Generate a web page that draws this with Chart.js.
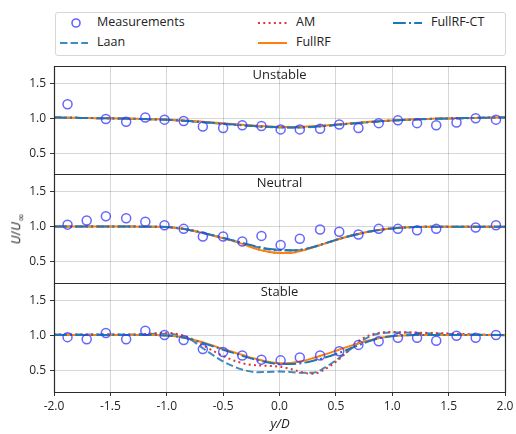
<!DOCTYPE html>
<html>
<head>
<meta charset="utf-8">
<script src="https://cdn.jsdelivr.net/npm/chart.js@4.4.1/dist/chart.umd.min.js"></script>
<style>
  body { margin: 0; width: 516px; height: 434px; position: relative; overflow: hidden; background: #fff;
         font-family: "Open Sans", sans-serif; color: #222; }
  canvas { position: absolute; left: 0; }
  #legend { position: absolute; left: 55px; top: 12px; width: 449px; height: 42px;
            border: 1px solid #d6d6d6; border-radius: 3px; }
  .lg-text { position: absolute; font-size: 12.5px; line-height: 16px; white-space: nowrap; }
  .lg-icon { position: absolute; }
  #ylabel { position: absolute; left: 16px; top: 229px; transform: translate(-50%, -50%) rotate(-90deg);
            font-size: 13px; white-space: nowrap; }
  #ylabel sub { font-family: "DejaVu Sans", sans-serif; font-size: 10px; font-style: normal; }
  #xlabel { position: absolute; left: 280px; top: 423px; transform: translate(-50%, -50%);
            font-size: 13px; font-style: italic; }
</style>
</head>
<body>

<div id="legend"></div>
<svg class="lg-icon" style="left:70px;top:17px" width="12" height="12"><circle cx="6" cy="6" r="4" fill="none" stroke="rgba(50,50,255,0.75)" stroke-width="1.6"/></svg>
<div class="lg-text" style="left:97px;top:14px">Measurements</div>
<svg class="lg-icon" style="left:60px;top:40px" width="28" height="6"><line x1="0" y1="3" x2="28" y2="3" stroke="rgba(31,119,180,0.85)" stroke-width="2" stroke-dasharray="7.4 3.2"/></svg>
<div class="lg-text" style="left:97px;top:34px">Laan</div>
<svg class="lg-icon" style="left:258px;top:20px" width="29" height="6"><line x1="0" y1="3" x2="29" y2="3" stroke="#e23535" stroke-width="2" stroke-dasharray="2 3.3"/></svg>
<div class="lg-text" style="left:296px;top:14px">AM</div>
<svg class="lg-icon" style="left:258px;top:40px" width="29" height="6"><line x1="0" y1="3" x2="29" y2="3" stroke="#ff7f0e" stroke-width="2"/></svg>
<div class="lg-text" style="left:296px;top:34px">FullRF</div>
<svg class="lg-icon" style="left:393px;top:20px" width="29" height="6"><line x1="0" y1="3" x2="29" y2="3" stroke="#1f77b4" stroke-width="2" stroke-dasharray="12.8 3.2 2 3.2"/></svg>
<div class="lg-text" style="left:431px;top:14px">FullRF-CT</div>

<canvas id="c1" width="516" height="120" style="top:60px"></canvas>
<canvas id="c2" width="516" height="121" style="top:168px"></canvas>
<canvas id="c3" width="516" height="149" style="top:277px"></canvas>

<div id="ylabel"><i>U</i>/<i>U</i><sub>∞</sub></div>
<div id="xlabel">y/D</div>

<script>
// y/D sample positions for the model curves
const curveX = [-2.0,-1.9,-1.8,-1.7,-1.6,-1.5,-1.4,-1.3,-1.2,-1.1,-1.0,-0.9,-0.8,-0.7,-0.6,-0.5,-0.4,-0.3,-0.2,-0.1,
                0.0,0.1,0.2,0.3,0.4,0.5,0.6,0.7,0.8,0.9,1.0,1.1,1.2,1.3,1.4,1.5,1.6,1.7,1.8,1.9,2.0];

// measurement positions
const measX = [-1.88,-1.71,-1.54,-1.36,-1.19,-1.02,-0.85,-0.68,-0.50,-0.33,-0.16,0.01,
               0.18,0.36,0.53,0.70,0.88,1.05,1.22,1.39,1.57,1.74,1.92];

// Unstable
const unstableMeas = [1.20,null,0.99,0.95,1.01,0.98,0.96,0.88,0.86,0.90,0.89,0.84,0.84,0.85,0.91,0.86,0.93,0.97,0.93,0.90,0.94,1.00,0.98];
const unstableLaan = [1.010,1.009,1.006,1.003,1.001,0.999,0.996,0.992,0.988,0.983,0.977,0.968,0.957,0.945,0.932,0.919,0.906,0.894,0.883,0.874,
                      0.868,0.866,0.868,0.876,0.888,0.902,0.917,0.931,0.944,0.956,0.966,0.975,0.982,0.988,0.993,0.997,1.000,1.003,1.006,1.009,1.011];
const unstableAM = [1.010,1.009,1.006,1.003,1.001,0.999,0.996,0.993,0.989,0.985,0.979,0.971,0.960,0.949,0.937,0.924,0.911,0.899,0.888,0.879,
                    0.873,0.871,0.873,0.880,0.892,0.906,0.920,0.934,0.947,0.958,0.968,0.976,0.983,0.989,0.994,0.998,1.001,1.004,1.007,1.010,1.012];
const unstableFullRF = [1.010,1.009,1.006,1.003,1.001,0.999,0.996,0.993,0.990,0.986,0.981,0.973,0.963,0.952,0.940,0.928,0.915,0.903,0.892,0.883,
                        0.877,0.875,0.877,0.884,0.895,0.909,0.923,0.937,0.949,0.960,0.969,0.977,0.984,0.990,0.995,0.998,1.001,1.004,1.007,1.010,1.012];
const unstableCT = [1.010,1.009,1.006,1.003,1.001,0.999,0.996,0.992,0.989,0.984,0.978,0.970,0.959,0.947,0.935,0.922,0.909,0.897,0.886,0.877,
                    0.871,0.869,0.871,0.879,0.891,0.905,0.919,0.933,0.946,0.957,0.967,0.976,0.983,0.989,0.994,0.998,1.001,1.004,1.007,1.010,1.012];

// Neutral
const neutralMeas = [1.03,1.09,1.15,1.12,1.07,1.02,0.97,0.86,0.86,0.79,0.87,0.74,0.83,0.96,0.93,0.89,0.97,0.97,0.95,0.97,null,0.99,1.02];
const neutralLaan = [1.002,1.002,1.002,1.002,1.002,1.002,1.002,1.002,1.001,1.000,0.995,0.980,0.955,0.920,0.881,0.840,0.797,0.752,0.711,0.680,
                     0.665,0.662,0.674,0.710,0.760,0.812,0.858,0.898,0.932,0.958,0.976,0.988,0.995,0.999,1.000,1.000,1.000,1.001,1.001,1.001,1.001];
const neutralAM = [1.002,1.002,1.002,1.002,1.002,1.002,1.002,1.002,1.001,1.000,0.995,0.980,0.955,0.920,0.880,0.838,0.792,0.740,0.684,0.645,
                   0.627,0.630,0.660,0.708,0.760,0.812,0.858,0.898,0.932,0.958,0.976,0.988,0.995,0.999,1.000,1.000,1.000,1.001,1.001,1.001,1.001];
const neutralFullRF = [1.002,1.002,1.002,1.002,1.002,1.002,1.002,1.002,1.001,1.000,0.995,0.980,0.955,0.920,0.880,0.838,0.792,0.740,0.682,0.643,
                       0.625,0.628,0.660,0.708,0.760,0.812,0.858,0.898,0.932,0.958,0.976,0.988,0.995,0.999,1.000,1.000,1.000,1.001,1.001,1.001,1.001];
const neutralCT = [1.002,1.002,1.002,1.002,1.002,1.002,1.002,1.002,1.001,1.000,0.995,0.980,0.955,0.920,0.882,0.842,0.800,0.757,0.718,0.688,
                   0.672,0.666,0.675,0.712,0.762,0.813,0.858,0.898,0.932,0.958,0.976,0.988,0.995,0.999,1.000,1.000,1.000,1.001,1.001,1.001,1.001];

// Stable
const stableMeas = [0.98,0.95,1.04,0.95,1.07,1.01,0.94,0.81,0.77,0.72,0.66,0.65,0.69,0.72,0.78,0.87,0.92,0.97,0.97,0.93,1.00,0.97,1.01];
const stableLaan = [1.018,1.018,1.018,1.018,1.018,1.018,1.018,1.018,1.022,1.028,1.030,1.008,0.955,0.845,0.735,0.635,0.560,0.505,0.482,0.485,
                    0.490,0.485,0.472,0.475,0.545,0.650,0.770,0.895,0.990,1.035,1.047,1.047,1.042,1.036,1.031,1.026,1.021,1.017,1.013,1.010,1.008];
const stableAM = [1.018,1.018,1.018,1.018,1.018,1.018,1.018,1.018,1.025,1.035,1.040,1.022,0.972,0.885,0.795,0.712,0.645,0.598,0.580,0.572,
                  0.560,0.528,0.480,0.458,0.520,0.630,0.770,0.920,1.010,1.045,1.052,1.050,1.046,1.041,1.036,1.031,1.026,1.021,1.017,1.013,1.010];
const stableFullRF = [1.012,1.012,1.012,1.012,1.012,1.012,1.012,1.012,1.011,1.010,1.004,0.988,0.958,0.915,0.865,0.812,0.762,0.712,0.666,0.630,
                      0.610,0.614,0.640,0.683,0.733,0.787,0.842,0.892,0.937,0.972,0.994,1.005,1.010,1.012,1.012,1.012,1.012,1.012,1.012,1.012,1.012];
const stableCT = [1.012,1.012,1.012,1.012,1.012,1.012,1.012,1.012,1.011,1.010,1.004,0.986,0.955,0.908,0.855,0.800,0.750,0.700,0.655,0.620,
                  0.600,0.598,0.612,0.645,0.688,0.740,0.800,0.865,0.925,0.970,0.995,1.007,1.011,1.012,1.012,1.012,1.012,1.012,1.012,1.012,1.012];

const xTicks = [-2.0,-1.5,-1.0,-0.5,0.0,0.5,1.0,1.5,2.0];
const yTicks = [0.5,1.0,1.5];

const FONT = '"Open Sans", sans-serif';

function pts(xs, ys) {
  return xs.map((x, i) => ({ x: x, y: ys[i] })).filter(p => p.y !== null);
}

// frame (matplotlib spines) + panel title
const panelDeco = {
  id: 'panelDeco',
  afterDraw(chart, args, opts) {
    const ctx = chart.ctx, a = chart.chartArea;
    ctx.save();
    ctx.strokeStyle = '#2b2b2b';
    ctx.lineWidth = 1.2;
    ctx.beginPath();
    if (opts.top) { ctx.moveTo(a.left, a.top + 0.5); ctx.lineTo(a.right + 1, a.top + 0.5); }
    ctx.moveTo(a.left + 0.5, a.top); ctx.lineTo(a.left + 0.5, a.bottom + 1);
    ctx.moveTo(a.right + 0.5, a.top); ctx.lineTo(a.right + 0.5, a.bottom + 1);
    ctx.moveTo(a.left, a.bottom + 0.5); ctx.lineTo(a.right + 1, a.bottom + 0.5);
    ctx.stroke();
    ctx.fillStyle = '#222';
    ctx.font = '13px ' + FONT;
    ctx.textAlign = 'center';
    ctx.textBaseline = 'middle';
    ctx.fillText(opts.title, (a.left + a.right) / 2, a.top + 9);
    ctx.restore();
  }
};

function makePanel(id, title, meas, laan, am, fullrf, ct, isBottom, isTop) {
  const lineDs = (label, ys, color, dash, order) => ({
    type: 'line', label: label, data: pts(curveX, ys),
    borderColor: color, borderWidth: 2, borderDash: dash,
    pointRadius: 0, fill: false, cubicInterpolationMode: 'monotone', order: order
  });
  new Chart(document.getElementById(id), {
    type: 'scatter',
    data: {
      datasets: [
        { type: 'scatter', label: 'Measurements', data: pts(measX, meas),
          pointStyle: 'circle', pointRadius: 4.5, pointBorderWidth: 1.5,
          borderColor: 'rgba(50,50,255,0.75)', backgroundColor: 'rgba(0,0,0,0)', order: 0 },
        lineDs('Laan', laan, 'rgba(31,119,180,0.85)', [7.4, 3.2], 4),
        lineDs('AM', am, '#e23535', [2, 3.3], 3),
        lineDs('FullRF', fullrf, '#ff7f0e', [], 2),
        lineDs('FullRF-CT', ct, '#1f77b4', [12.8, 3.2, 2, 3.2], 1)
      ]
    },
    options: {
      responsive: false,
      animation: false,
      devicePixelRatio: 1,
      events: [],
      layout: { padding: { left: 0, right: 11, top: 6, bottom: isBottom ? 4 : 6 } },
      plugins: {
        legend: { display: false },
        tooltip: { enabled: false },
        panelDeco: { title: title, top: isTop }
      },
      scales: {
        x: {
          type: 'linear', min: -2, max: 2,
          afterBuildTicks: s => { s.ticks = xTicks.map(v => ({ value: v })); },
          afterFit: s => { s.height = isBottom ? 30 : 0; s.paddingLeft = 0; s.paddingRight = 0; },
          border: { display: false },
          grid: { color: 'rgba(0,0,0,0.2)', lineWidth: 0.8, borderDash: [1, 2],
                  drawTicks: isBottom, tickLength: 4, tickColor: '#333', tickWidth: 1, tickBorderDash: [] },
          ticks: { display: isBottom, padding: 3, color: '#262626', font: { family: FONT, size: 12 },
                   callback: v => v.toFixed(1), maxRotation: 0 }
        },
        y: {
          min: 0.2, max: 1.75,
          afterBuildTicks: s => { s.ticks = yTicks.map(v => ({ value: v })); },
          afterFit: s => { s.width = 54; s.paddingTop = 0; s.paddingBottom = 0; },
          border: { display: false },
          grid: { color: 'rgba(0,0,0,0.2)', lineWidth: 0.8, borderDash: [1, 2],
                  drawTicks: true, tickLength: 4, tickColor: '#333', tickWidth: 1, tickBorderDash: [] },
          ticks: { padding: 4, color: '#262626', font: { family: FONT, size: 12 },
                   callback: v => v.toFixed(1) }
        }
      }
    },
    plugins: [panelDeco]
  });
}

makePanel('c1', 'Unstable', unstableMeas, unstableLaan, unstableAM, unstableFullRF, unstableCT, false, true);
makePanel('c2', 'Neutral', neutralMeas, neutralLaan, neutralAM, neutralFullRF, neutralCT, false, false);
makePanel('c3', 'Stable', stableMeas, stableLaan, stableAM, stableFullRF, stableCT, true, false);
</script>
</body>
</html>
